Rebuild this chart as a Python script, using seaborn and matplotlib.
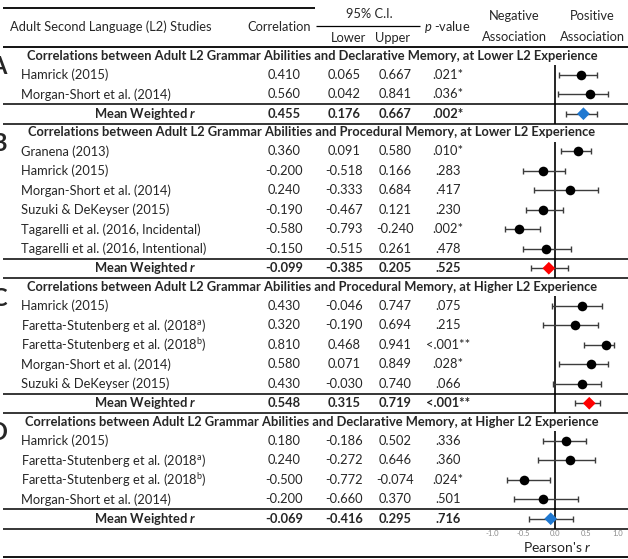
import numpy as np
import pandas as pd
import matplotlib.pyplot as plt
import seaborn as sns

# ---- data ----
panel_letters = ['A', 'B', 'C', 'D']
section_titles = [
    'Correlations between Adult L2 Grammar Abilities and Declarative Memory, at Lower L2 Experience',
    'Correlations between Adult L2 Grammar Abilities and Procedural Memory, at Lower L2 Experience',
    'Correlations between Adult L2 Grammar Abilities and Procedural Memory, at Higher L2 Experience',
    'Correlations between Adult L2 Grammar Abilities and Declarative Memory, at Higher L2 Experience',
]
studies_a = ['Hamrick (2015)', 'Morgan-Short et al. (2014)']
r_a = [0.410, 0.560]
lo_a = [0.065, 0.042]
hi_a = [0.667, 0.841]
p_a = ['.021*', '.036*']
mean_a = [0.455, 0.176, 0.667, '.002*']

studies_b = ['Granena (2013)', 'Hamrick (2015)', 'Morgan-Short et al. (2014)',
             'Suzuki & DeKeyser (2015)', 'Tagarelli et al. (2016, Incidental)',
             'Tagarelli et al. (2016, Intentional)']
r_b = [0.360, -0.200, 0.240, -0.190, -0.580, -0.150]
lo_b = [0.091, -0.518, -0.333, -0.467, -0.793, -0.515]
hi_b = [0.580, 0.166, 0.684, 0.121, -0.240, 0.261]
p_b = ['.010*', '.283', '.417', '.230', '.002*', '.478']
mean_b = [-0.099, -0.385, 0.205, '.525']

studies_c = ['Hamrick (2015)', 'Faretta-Stutenberg et al. (2018$^{\\mathrm{a}}$)',
             'Faretta-Stutenberg et al. (2018$^{\\mathrm{b}}$)', 'Morgan-Short et al. (2014)',
             'Suzuki & DeKeyser (2015)']
r_c = [0.430, 0.320, 0.810, 0.580, 0.430]
lo_c = [-0.046, -0.190, 0.468, 0.071, -0.030]
hi_c = [0.747, 0.694, 0.941, 0.849, 0.740]
p_c = ['.075', '.215', '<.001**', '.028*', '.066']
mean_c = [0.548, 0.315, 0.719, '<.001**']

studies_d = ['Hamrick (2015)', 'Faretta-Stutenberg et al. (2018$^{\\mathrm{a}}$)',
             'Faretta-Stutenberg et al. (2018$^{\\mathrm{b}}$)', 'Morgan-Short et al. (2014)']
r_d = [0.180, 0.240, -0.500, -0.200]
lo_d = [-0.186, -0.272, -0.772, -0.660]
hi_d = [0.502, 0.646, -0.074, 0.370]
p_d = ['.336', '.360', '.024*', '.501']
mean_d = [-0.069, -0.416, 0.295, '.716']

memory_type = ['Declarative', 'Procedural', 'Procedural', 'Declarative']
tick_vals = [-1.0, -0.5, 0.0, 0.5, 1.0]
tick_labels = ['-1.0', '-0.5', '0.0', '0.5', '1.0']

sections = [
    (studies_a, r_a, lo_a, hi_a, p_a, mean_a),
    (studies_b, r_b, lo_b, hi_b, p_b, mean_b),
    (studies_c, r_c, lo_c, hi_c, p_c, mean_c),
    (studies_d, r_d, lo_d, hi_d, p_d, mean_d),
]

sns.set_theme(style='white')
plt.rcParams['font.family'] = ['Lato', 'DejaVu Sans']
plt.rcParams['mathtext.fontset'] = 'custom'
plt.rcParams['mathtext.rm'] = 'Lato'
plt.rcParams['mathtext.it'] = 'Lato:italic'
plt.rcParams['mathtext.bf'] = 'Lato:bold'
plt.rcParams['mathtext.bfit'] = 'Lato:bold:italic'

W, H = 628, 559
fig = plt.figure(figsize=(W / 100, H / 100), dpi=100)
tab = fig.add_axes([0, 0, 1, 1])
tab.set_xlim(0, W)
tab.set_ylim(H, 0)
tab.axis('off')

fs = 9.3
x_name, x_corr, x_lo, x_hi, x_p = 21, 284, 344, 395, 448
x_mean_lbl = 197
zero_px, px_per_r = 555, 62.5

# header
tab.hlines(8, 3, 315, color='black', lw=1.3)
tab.text(10, 27, 'Adult Second Language (L2) Studies', fontsize=fs, va='center')
tab.text(x_corr - 5, 27, 'Correlation', fontsize=fs, va='center', ha='center')
tab.text(369, 14, '95% C.I.', fontsize=fs, va='center', ha='center')
tab.hlines(26, 316, 420, color='black', lw=0.9)
tab.text(349, 38, 'Lower', fontsize=fs, va='center', ha='center')
tab.text(393, 38, 'Upper', fontsize=fs, va='center', ha='center')
tab.text(447, 27, '$p$ -value', fontsize=fs, va='center', ha='center')
tab.text(514, 16, 'Negative', fontsize=fs, va='center', ha='center')
tab.text(514, 37, 'Association', fontsize=fs, va='center', ha='center')
tab.text(592, 16, 'Positive', fontsize=fs, va='center', ha='center')
tab.text(592, 37, 'Association', fontsize=fs, va='center', ha='center')
tab.hlines(47, 3, W, color='black', lw=1.3)

title_h, row_h = 18.0, 19.5
y = 47.0
rows = []
vspans = []
for i, (names, rr, lo, hi, pv, mean) in enumerate(sections):
    ty = y + title_h / 2
    tab.text(312, ty, section_titles[i], fontsize=fs, fontweight='bold',
             va='center', ha='center')
    tab.text(7, ty + 11, panel_letters[i], fontsize=17, fontweight='bold',
             va='center', ha='right')
    y += title_h
    top = y
    for name, r, l, h, p in zip(names, rr, lo, hi, pv):
        cy = y + row_h / 2
        tab.text(x_name, cy, name, fontsize=fs, va='center')
        tab.text(x_corr, cy, f'{r:.3f}', fontsize=fs, va='center', ha='center')
        tab.text(x_lo, cy, f'{l:.3f}', fontsize=fs, va='center', ha='center')
        tab.text(x_hi, cy, f'{h:.3f}', fontsize=fs, va='center', ha='center')
        tab.text(x_p, cy, p, fontsize=fs, va='center', ha='center')
        rows.append(dict(r=r, lo=l, hi=h, y=cy, kind='study', mem=memory_type[i]))
        y += row_h
    tab.hlines(y, 3, W, color='black', lw=1.1)
    cy = y + row_h / 2
    mr, ml, mh, mp = mean
    tab.text(x_mean_lbl, cy, 'Mean Weighted $\\mathbfit{r}$', fontsize=fs,
             fontweight='bold', va='center', ha='right')
    for xx, v in [(x_corr, f'{mr:.3f}'), (x_lo, f'{ml:.3f}'), (x_hi, f'{mh:.3f}'), (x_p, mp)]:
        tab.text(xx, cy, v, fontsize=fs, fontweight='bold', va='center', ha='center')
    rows.append(dict(r=mr, lo=ml, hi=mh, y=cy, kind='mean', mem=memory_type[i]))
    y += row_h
    tab.hlines(y, 3, W, color='black', lw=1.1)
    vspans.append((top, y))

bottom = y
tab.hlines(557, 3, W, color='black', lw=1.3)

df = pd.DataFrame(rows)

# forest plot axes, aligned with the table rows
left_px = 487
fa = fig.add_axes([left_px / W, 1 - bottom / H, (W - left_px) / W, (bottom - 47) / H])
fa.set_xlim((left_px - zero_px) / px_per_r, (W - zero_px) / px_per_r)
fa.set_ylim(bottom, 47)
fa.patch.set_alpha(0)
for s in fa.spines.values():
    s.set_visible(False)

for top, bot in vspans:
    fa.vlines(0, top, bot, color='black', lw=1.2, zorder=1)

fa.errorbar(df['r'], df['y'], xerr=[df['r'] - df['lo'], df['hi'] - df['r']],
            fmt='none', ecolor='#3c3c3c', elinewidth=1.0, capsize=2.4,
            capthick=1.0, zorder=2)
sns.scatterplot(data=df[df.kind == 'study'], x='r', y='y', ax=fa, color='black',
                s=48, edgecolor='black', linewidth=0, zorder=3)
sns.scatterplot(data=df[df.kind == 'mean'], x='r', y='y', hue='mem', ax=fa,
                palette={'Declarative': '#1f78d1', 'Procedural': '#ff0000'},
                marker='D', s=42, linewidth=0, legend=False, zorder=3)

fa.set_yticks([])
fa.set_ylabel('')
fa.set_xticks(tick_vals)
fa.set_xticklabels(tick_labels)
fa.tick_params(axis='x', length=0, labelsize=5.5, labelcolor='#8a8a8a', pad=1)
fa.set_xlabel("Pearson's $r$", fontsize=10, labelpad=2)

fig.savefig('out.png', dpi=100)
